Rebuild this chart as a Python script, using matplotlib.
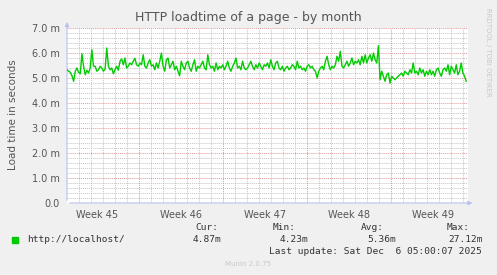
import matplotlib
matplotlib.use("Agg")
import matplotlib.pyplot as plt
import numpy as np

# load time samples (ms) left to right
load_ms = [
    5.33, 5.27, 5.23, 5.09, 4.87, 5.27, 5.40, 5.23, 5.17, 5.97, 5.47, 5.13, 5.31, 5.20,
    5.40, 6.13, 5.47, 5.47, 5.27, 5.33, 5.47, 5.40, 5.27, 5.36, 6.20, 5.47, 5.33, 5.40,
    5.17, 5.33, 5.47, 5.31, 5.67, 5.76, 5.53, 5.80, 5.40, 5.47, 5.60, 5.53, 5.67, 5.79,
    5.53, 5.47, 5.60, 5.53, 5.93, 5.47, 5.40, 5.60, 5.73, 5.47, 5.53, 5.33, 5.60, 5.40,
    5.67, 6.00, 5.47, 5.27, 5.73, 5.80, 5.40, 5.53, 5.67, 5.33, 5.47, 5.27, 5.09, 5.67,
    5.47, 5.33, 5.60, 5.67, 5.40, 5.27, 5.53, 5.73, 5.27, 5.47, 5.40, 5.53, 5.67, 5.40,
    5.33, 5.93, 5.53, 5.40, 5.47, 5.27, 5.60, 5.33, 5.47, 5.40, 5.53, 5.33, 5.47, 5.67,
    5.40, 5.27, 5.47, 5.60, 5.80, 5.40, 5.47, 5.33, 5.67, 5.40, 5.33,
    5.40, 5.53, 5.67, 5.47, 5.33, 5.53, 5.40, 5.60, 5.47, 5.33, 5.53, 5.47, 5.60, 5.40,
    5.73, 5.47, 5.33, 5.60, 5.67, 5.40, 5.33, 5.47, 5.27, 5.40, 5.47, 5.33, 5.40, 5.53,
    5.47, 5.33, 5.67, 5.40, 5.47, 5.33, 5.40, 5.27, 5.47, 5.53, 5.40, 5.47, 5.33, 5.27,
    5.00, 5.27, 5.40, 5.47, 5.33, 5.67, 5.87, 5.53, 5.33, 5.47, 5.40, 5.53, 5.87, 5.67,
    6.07, 5.47, 5.40, 5.53, 5.67, 5.47, 5.60, 5.80, 5.53, 5.67, 5.60, 5.73, 5.53, 5.87,
    5.60, 5.93, 5.60, 5.80, 5.93, 5.67, 6.00, 5.73, 5.60, 6.29, 4.93, 5.27, 5.07, 4.87,
    5.13, 5.20, 4.80, 5.07, 5.00, 4.93, 5.00, 5.07, 5.13, 5.20, 5.07, 5.27, 5.20, 5.13,
    5.33, 5.20, 5.60, 5.20, 5.27, 5.13, 5.40, 5.20, 5.33, 5.07, 5.27, 5.13, 5.33, 5.13,
    5.27, 5.07, 5.33, 5.40, 5.20, 5.07, 5.33, 5.40, 5.27, 5.53, 5.13, 5.47, 5.33, 5.20,
    5.53, 5.13, 5.27, 5.60, 5.20, 5.07, 4.87,
]
# time span of the data, in days after Mon Nov 3 (start of week 45)
t_first, t_last = 1.0, 34.25
x_range = (1.0, 34.4)
week_starts = [7, 14, 21, 28]
week_labels = ["Week 45", "Week 46", "Week 47", "Week 48", "Week 49"]
week_label_pos = [3.5, 10.5, 17.5, 24.5, 31.5]
y_ticks = [0, 1, 2, 3, 4, 5, 6, 7]
y_tick_labels = ["0.0", "1.0 m", "2.0 m", "3.0 m", "4.0 m", "5.0 m", "6.0 m", "7.0 m"]

legend_name = "http://localhost/"
stats_heads = ["Cur:", "Min:", "Avg:", "Max:"]
stats_vals = ["4.87m", "4.23m", "5.36m", "27.12m"]

t = np.linspace(t_first, t_last, len(load_ms))

txt = "#555555"
green = "#00CC00"

fig = plt.figure(figsize=(4.97, 2.75), dpi=100, facecolor="#F0F0F0")
ax = fig.add_axes([67 / 497, 1 - 203 / 275, 401 / 497, 175 / 275])
ax.set_facecolor("#FFFFFF")

# minor grid
for v in np.arange(0.2, 7.01, 0.2):
    if abs(v - round(v)) > 0.01:
        ax.axhline(v, color="#c4c4c4", lw=0.7, ls=(0, (1, 1)), zorder=1)
for d in np.arange(2, 35, 1):
    if d % 7:
        ax.axvline(d, color="#c4c4c4", lw=0.7, ls=(0, (1, 1)), zorder=1)
# major grid
for v in y_ticks[1:]:
    ax.axhline(v, color="#dc9a9a", lw=0.7, ls=(0, (1, 1)), zorder=2)
for d in week_starts:
    ax.axvline(d, color="#dc9a9a", lw=0.7, ls=(0, (1, 1)), zorder=2)

ax.plot(t, load_ms, color=green, lw=1.0, zorder=5)

ax.set_xlim(*x_range)
ax.set_ylim(0, 7)
for s in ax.spines.values():
    s.set_visible(False)
ax.set_yticks(y_ticks)
ax.set_yticklabels(y_tick_labels)
ax.set_xticks(week_label_pos)
ax.set_xticklabels(week_labels)
ax.tick_params(axis="both", length=0, colors=txt, labelsize=7)
ax.tick_params(axis="x", pad=5)
ax.tick_params(axis="y", pad=5)

# axis lines with arrows
axis_col = "#b8c0f0"
ax.annotate("", xy=(x_range[0], 7.35), xytext=(x_range[0], 0), xycoords="data",
            arrowprops=dict(arrowstyle="-|>", color=axis_col, lw=0.8, mutation_scale=6),
            annotation_clip=False)
ax.annotate("", xy=(x_range[1] + 0.6, 0), xytext=(x_range[0], 0), xycoords="data",
            arrowprops=dict(arrowstyle="-|>", color=axis_col, lw=0.8, mutation_scale=6),
            annotation_clip=False)

fig.text(248 / 497, 1 - 18 / 275, "HTTP loadtime of a page - by month", ha="center",
         va="center", color=txt, fontsize=9)
fig.text(13 / 497, 1 - 115 / 275, "Load time in seconds", rotation=90, ha="center",
         va="center", color=txt, fontsize=7.5)
fig.text(488 / 497, 1 - 52 / 275, "RRDTOOL / TOBI OETIKER", rotation=270, ha="center",
         va="center", color="#c8c8c8", fontsize=5)

# legend
mono = "DejaVu Sans Mono"
fig.patches.append(plt.Rectangle((12 / 497, 1 - 243 / 275), 6 / 497, 6 / 275,
                                 transform=fig.transFigure, color=green))
fig.text(27 / 497, 1 - 240 / 275, legend_name, family=mono, fontsize=6.8, color="#333333",
         va="center")
head_right = [218, 296, 384, 470]
val_right = [221, 308, 396, 483]
for h, v, hr, vr in zip(stats_heads, stats_vals, head_right, val_right):
    fig.text(hr / 497, 1 - 228 / 275, h, family=mono, fontsize=6.8, color="#333333",
             ha="right", va="center")
    fig.text(vr / 497, 1 - 240 / 275, v, family=mono, fontsize=6.8, color="#333333",
             ha="right", va="center")
fig.text(482 / 497, 1 - 252 / 275, "Last update: Sat Dec  6 05:00:07 2025", family=mono,
         fontsize=6.8, color="#333333", ha="right", va="center")
fig.text(248 / 497, 1 - 264 / 275, "Munin 2.0.75", ha="center", va="center",
         color="#c8c8c8", fontsize=5)

fig.savefig("out.png", dpi=100, facecolor=fig.get_facecolor())
